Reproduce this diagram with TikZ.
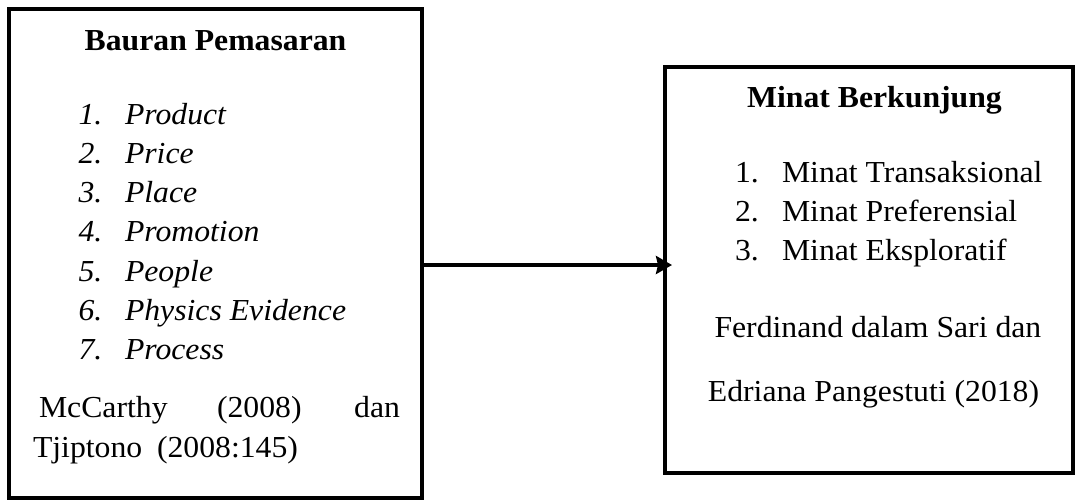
\documentclass[tikz,border=0pt]{standalone}
\usepackage{fontspec}
\setmainfont{Liberation Serif}[FakeStretch=1.04]
\usetikzlibrary{arrows.meta}
\begin{document}
\begin{tikzpicture}[x=1pt,y=-1pt,
  every node/.style={inner sep=0pt, outer sep=0pt, font=\fontsize{30.5}{36}\selectfont},
  box/.style={draw=black, line width=4pt, rectangle, inner sep=0pt},
  ttl/.style={anchor=base, font=\fontsize{30.5}{36}\selectfont\bfseries},
  inum/.style={anchor=base west, font=\fontsize{30.5}{36}\selectfont\itshape},
  rnum/.style={anchor=base west},
  ctr/.style={anchor=base},
  arr/.style={line width=4pt, -{Stealth[length=16pt,width=18pt,inset=2pt]}}
]
\fill[white] (0,0) rectangle (1075,499);
\useasboundingbox (0,0) rectangle (1075,499);

% boxes
\node[box, minimum width=413.5pt, minimum height=489pt] (L) at (215.25,253) {};
\node[box, minimum width=408.5pt, minimum height=405.7pt] (R) at (868.75,269.85) {};

% left box text
\node[ttl] (ltitle) at (215.5,50) {Bauran Pemasaran};
\foreach \n/\t/\y in {1/Product/124, 2/Price/163.3, 3/Place/202.6, 4/Promotion/241.9, 5/People/281.2, 6/Physics Evidence/320.5, 7/Process/359.8}{
  \node[inum] (ln\n) at (78.5,\y) {\n.};
  \node[inum] (lt\n) at (125,\y) {\t};
}
\node[anchor=base west] (mc1) at (39,417) {McCarthy};
\node[anchor=base west] (mc2) at (217,417) {(2008)};
\node[anchor=base east] (mc3) at (400,417) {dan};
\node[anchor=base west] (tj1) at (33,457) {Tjiptono};
\node[anchor=base west] (tj2) at (157,457) {(2008:145)};

% right box text
\node[ttl] (rtitle) at (874.5,107) {Minat Berkunjung};
\foreach \n/\t/\y in {1/Minat Transaksional/182, 2/Minat Preferensial/221.3, 3/Minat Eksploratif/260.6}{
  \node[rnum] (rn\n) at (735,\y) {\n.};
  \node[rnum] (rt\n) at (782,\y) {\t};
}
\node[ctr] (ref1) at (877.9,337) {Ferdinand dalam Sari dan};
\node[ctr] (ref2) at (873.5,401) {Edriana Pangestuti (2018)};

% connector
\coordinate (tip) at (672,265);
\draw[arr] (L.east |- tip) -- (tip);
\end{tikzpicture}
\end{document}
